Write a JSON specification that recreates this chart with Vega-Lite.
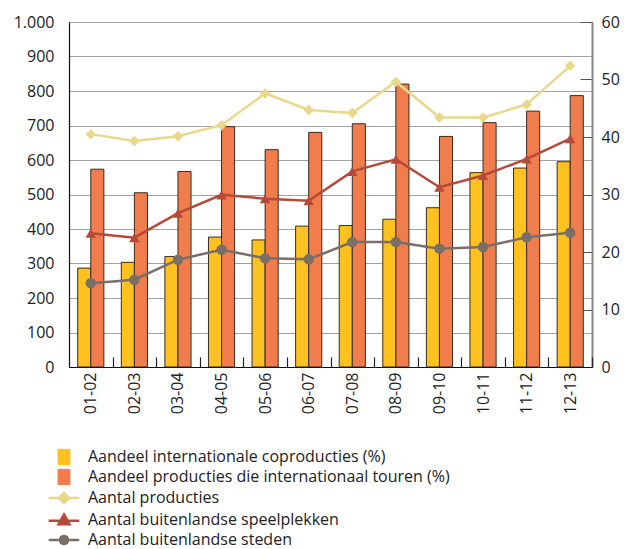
{
  "$schema": "https://vega.github.io/schema/vega-lite/v6.json",
  "width": 523,
  "height": 345,
  "autosize": "none",
  "padding": {"left": 69, "top": 22, "right": 42, "bottom": 182},
  "background": "white",
  "config": {
    "view": {"stroke": null},
    "font": "Open Sans",
    "axis": {"labelFont": "Open Sans", "labelFontSize": 16, "labelColor": "#222", "title": null},
    "legend": {"labelFont": "Open Sans", "labelFontSize": 16, "labelColor": "#222", "labelLimit": 600}
  },
  "datasets": {
    "bars": [
      {"season": "01-02", "series": "Aandeel internationale coproducties (%)", "pct": 17.2},
      {"season": "02-03", "series": "Aandeel internationale coproducties (%)", "pct": 18.2},
      {"season": "03-04", "series": "Aandeel internationale coproducties (%)", "pct": 19.2},
      {"season": "04-05", "series": "Aandeel internationale coproducties (%)", "pct": 22.6},
      {"season": "05-06", "series": "Aandeel internationale coproducties (%)", "pct": 22.1},
      {"season": "06-07", "series": "Aandeel internationale coproducties (%)", "pct": 24.5},
      {"season": "07-08", "series": "Aandeel internationale coproducties (%)", "pct": 24.6},
      {"season": "08-09", "series": "Aandeel internationale coproducties (%)", "pct": 25.7},
      {"season": "09-10", "series": "Aandeel internationale coproducties (%)", "pct": 27.7},
      {"season": "10-11", "series": "Aandeel internationale coproducties (%)", "pct": 33.8},
      {"season": "11-12", "series": "Aandeel internationale coproducties (%)", "pct": 34.6},
      {"season": "12-13", "series": "Aandeel internationale coproducties (%)", "pct": 35.7},
      {"season": "01-02", "series": "Aandeel producties die internationaal touren (%)", "pct": 34.4},
      {"season": "02-03", "series": "Aandeel producties die internationaal touren (%)", "pct": 30.3},
      {"season": "03-04", "series": "Aandeel producties die internationaal touren (%)", "pct": 34.0},
      {"season": "04-05", "series": "Aandeel producties die internationaal touren (%)", "pct": 41.8},
      {"season": "05-06", "series": "Aandeel producties die internationaal touren (%)", "pct": 37.8},
      {"season": "06-07", "series": "Aandeel producties die internationaal touren (%)", "pct": 40.8},
      {"season": "07-08", "series": "Aandeel producties die internationaal touren (%)", "pct": 42.3},
      {"season": "08-09", "series": "Aandeel producties die internationaal touren (%)", "pct": 49.2},
      {"season": "09-10", "series": "Aandeel producties die internationaal touren (%)", "pct": 40.1},
      {"season": "10-11", "series": "Aandeel producties die internationaal touren (%)", "pct": 42.5},
      {"season": "11-12", "series": "Aandeel producties die internationaal touren (%)", "pct": 44.5},
      {"season": "12-13", "series": "Aandeel producties die internationaal touren (%)", "pct": 47.2}
    ],
    "lines": [
      {"season": "01-02", "series": "Aantal producties", "count": 675},
      {"season": "02-03", "series": "Aantal producties", "count": 655},
      {"season": "03-04", "series": "Aantal producties", "count": 669},
      {"season": "04-05", "series": "Aantal producties", "count": 701},
      {"season": "05-06", "series": "Aantal producties", "count": 793},
      {"season": "06-07", "series": "Aantal producties", "count": 745},
      {"season": "07-08", "series": "Aantal producties", "count": 736},
      {"season": "08-09", "series": "Aantal producties", "count": 827},
      {"season": "09-10", "series": "Aantal producties", "count": 723},
      {"season": "10-11", "series": "Aantal producties", "count": 723},
      {"season": "11-12", "series": "Aantal producties", "count": 761},
      {"season": "12-13", "series": "Aantal producties", "count": 873},
      {"season": "01-02", "series": "Aantal buitenlandse speelplekken", "count": 388},
      {"season": "02-03", "series": "Aantal buitenlandse speelplekken", "count": 375},
      {"season": "03-04", "series": "Aantal buitenlandse speelplekken", "count": 446},
      {"season": "04-05", "series": "Aantal buitenlandse speelplekken", "count": 499},
      {"season": "05-06", "series": "Aantal buitenlandse speelplekken", "count": 488},
      {"season": "06-07", "series": "Aantal buitenlandse speelplekken", "count": 482},
      {"season": "07-08", "series": "Aantal buitenlandse speelplekken", "count": 567},
      {"season": "08-09", "series": "Aantal buitenlandse speelplekken", "count": 602},
      {"season": "09-10", "series": "Aantal buitenlandse speelplekken", "count": 521},
      {"season": "10-11", "series": "Aantal buitenlandse speelplekken", "count": 555},
      {"season": "11-12", "series": "Aantal buitenlandse speelplekken", "count": 603},
      {"season": "12-13", "series": "Aantal buitenlandse speelplekken", "count": 662},
      {"season": "01-02", "series": "Aantal buitenlandse steden", "count": 243},
      {"season": "02-03", "series": "Aantal buitenlandse steden", "count": 253},
      {"season": "03-04", "series": "Aantal buitenlandse steden", "count": 311},
      {"season": "04-05", "series": "Aantal buitenlandse steden", "count": 340},
      {"season": "05-06", "series": "Aantal buitenlandse steden", "count": 315},
      {"season": "06-07", "series": "Aantal buitenlandse steden", "count": 312},
      {"season": "07-08", "series": "Aantal buitenlandse steden", "count": 362},
      {"season": "08-09", "series": "Aantal buitenlandse steden", "count": 362},
      {"season": "09-10", "series": "Aantal buitenlandse steden", "count": 343},
      {"season": "10-11", "series": "Aantal buitenlandse steden", "count": 348},
      {"season": "11-12", "series": "Aantal buitenlandse steden", "count": 376},
      {"season": "12-13", "series": "Aantal buitenlandse steden", "count": 389}
    ]
  },
  "encoding": {
    "x": {
      "field": "season",
      "type": "ordinal",
      "scale": {"paddingInner": 0.4, "paddingOuter": 0.2},
      "axis": {
        "labelAngle": -90,
        "labelPadding": 15,
        "tickOffset": 21.8,
        "labelOffset": -21.8,
        "tickSize": -10,
        "tickWidth": 1.2,
        "tickColor": "#222",
        "domainColor": "#111",
        "domainWidth": 1.2,
        "zindex": 1,
        "title": null
      }
    },
    "color": {
      "field": "series",
      "type": "nominal",
      "scale": {
        "domain": [
          "Aandeel internationale coproducties (%)",
          "Aandeel producties die internationaal touren (%)",
          "Aantal producties",
          "Aantal buitenlandse speelplekken",
          "Aantal buitenlandse steden"
        ],
        "range": ["#FDC220", "#F07D4B", "#E9D78A", "#B5493A", "#7A6E68"]
      },
      "legend": {
        "title": null,
        "orient": "none",
        "legendX": -13,
        "legendY": 427,
        "direction": "vertical",
        "padding": 0,
        "symbolSize": 289,
        "rowPadding": 0,
        "labelOffset": 16,
        "labelLimit": 600,
        "encode": {
          "symbols": {
            "update": {
              "shape": {"signal": "datum.value == 'Aantal producties' ? 'M-1.8,0H1.8M0,-0.6L0.6,0L0,0.6L-0.6,0Z' : datum.value == 'Aantal buitenlandse speelplekken' ? 'M-1.8,0.1H1.8M0,-0.65L0.65,0.5L-0.65,0.5Z' : datum.value == 'Aantal buitenlandse steden' ? 'M-1.8,0H1.8M0.5,0L0.35,0.35L0,0.5L-0.35,0.35L-0.5,0L-0.35,-0.35L0,-0.5L0.35,-0.35Z' : 'M-0.7,-0.9H0.7V0.9H-0.7Z'"},
              "fill": {"signal": "datum.value == 'Aantal producties' ? '#E9D78A' : datum.value == 'Aantal buitenlandse speelplekken' ? '#B5493A' : datum.value == 'Aantal buitenlandse steden' ? '#7A6E68' : datum.value == 'Aandeel internationale coproducties (%)' ? '#FDC220' : '#F07D4B'"},
              "stroke": {"signal": "datum.value == 'Aantal producties' ? '#E9D78A' : datum.value == 'Aantal buitenlandse speelplekken' ? '#B5493A' : datum.value == 'Aantal buitenlandse steden' ? '#7A6E68' : '#3a2a20'"},
              "strokeWidth": {"signal": "substring(datum.value, 0, 6) == 'Aantal' ? 2.5 : 1"},
              "opacity": {"value": 1}
            }
          }
        }
      }
    }
  },
  "layer": [
    {
      "data": {"name": "bars"},
      "mark": {"type": "bar", "stroke": "#3a2a20", "strokeWidth": 1},
      "encoding": {
        "xOffset": {
          "field": "series",
          "type": "nominal",
          "sort": ["Aandeel internationale coproducties (%)", "Aandeel producties die internationaal touren (%)"],
          "scale": {"paddingInner": 0, "paddingOuter": 0}
        },
        "y": {
          "field": "pct",
          "type": "quantitative",
          "scale": {"domain": [0, 60], "nice": false},
          "axis": {
            "orient": "right",
            "values": [0, 10, 20, 30, 40, 50, 60],
            "grid": false,
            "tickSize": -12,
            "tickColor": "#555",
            "domainColor": "#888",
            "domainWidth": 2,
            "labelPadding": 21,
            "title": null
          }
        }
      }
    },
    {
      "data": {"name": "lines"},
      "encoding": {
        "y": {
          "field": "count",
          "type": "quantitative",
          "scale": {"domain": [0, 1000], "nice": false},
          "axis": {
            "orient": "left",
            "values": [0, 100, 200, 300, 400, 500, 600, 700, 800, 900, 1000],
            "grid": true,
            "gridDash": [1, 1],
            "gridColor": "#444",
            "gridWidth": 1,
            "ticks": false,
            "domainColor": "#111",
            "domainWidth": 1.2,
            "labelPadding": 15,
            "labelExpr": "replace(format(datum.value, ','), ',', '.')",
            "title": null
          }
        }
      },
      "layer": [
        {
          "mark": {"type": "line", "strokeWidth": 2.5},
          "encoding": {"detail": {"field": "series"}}
        },
        {
          "mark": {"type": "point", "filled": true, "opacity": 1, "size": 110},
          "encoding": {
            "shape": {
              "field": "series",
              "type": "nominal",
              "scale": {
                "domain": ["Aantal producties", "Aantal buitenlandse speelplekken", "Aantal buitenlandse steden"],
                "range": ["diamond", "triangle-up", "circle"]
              },
              "legend": null
            }
          }
        }
      ]
    }
  ],
  "resolve": {"scale": {"y": "independent"}}
}
